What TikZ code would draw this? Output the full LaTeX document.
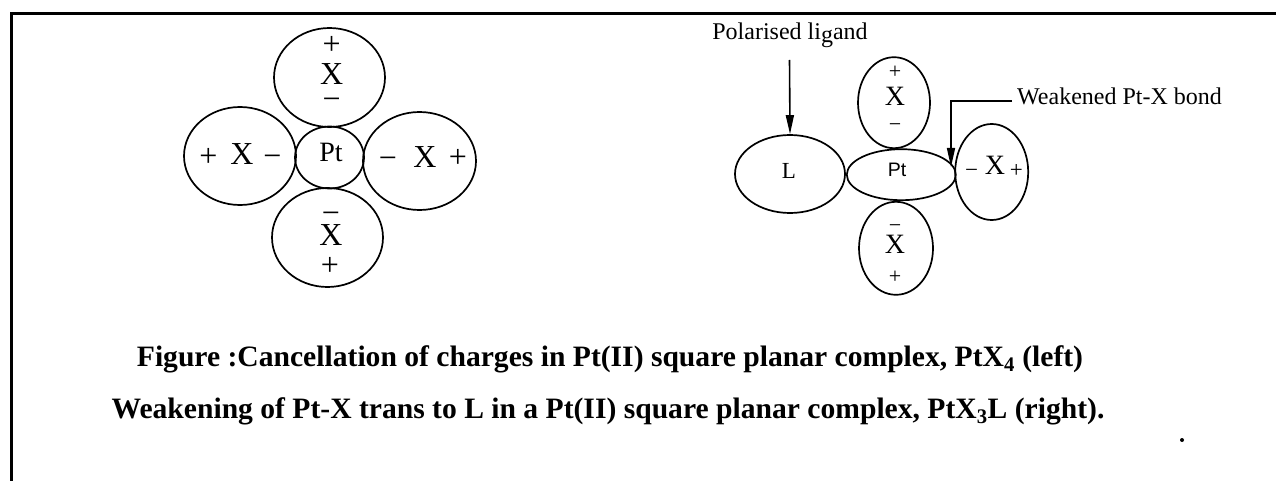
\documentclass[tikz,border=0pt]{standalone}
\usepackage{fontspec}
\setmainfont{Liberation Serif}
\newfontfamily\sansf{Liberation Sans}
\usetikzlibrary{shapes.geometric,arrows.meta}
\begin{document}
\begin{tikzpicture}[x=1pt,y=-1pt,
  orb/.style={draw,ellipse,line width=1.7pt,inner sep=0pt},
  big/.style={inner sep=0pt,anchor=base,font=\fontsize{32}{32}\selectfont},
  mid/.style={inner sep=0pt,anchor=base,font=\fontsize{28}{28}\selectfont},
  sml/.style={inner sep=0pt,anchor=base,font=\fontsize{23}{23}\selectfont},
  note/.style={inner sep=0pt,anchor=base,font=\fontsize{22}{22}\selectfont},
  label/.style={inner sep=0pt,anchor=base,font=\fontsize{24}{24}\selectfont},
  captext/.style={inner sep=0pt,anchor=base,font=\fontsize{29.6}{29.6}\selectfont\bfseries},
  arr/.style={line width=1.6pt,-{Triangle[length=19pt,width=8pt]}}]
\useasboundingbox (0,0) rectangle (1276,481);
\draw[line width=3pt] (1276,14) -- (11,14) -- (11,481);
\fill (1182,440) circle (2);
% left complex
\node[orb,minimum width=111,minimum height=99] (t1) at (329.5,77.5) {};
\node[orb,minimum width=112,minimum height=98] (l1) at (240,156) {};
\node[orb,minimum width=69,minimum height=62] (pt1) at (329.5,157.5) {};
\node[orb,minimum width=113,minimum height=98] (r1) at (419.5,161) {};
\node[orb,minimum width=111,minimum height=99] (b1) at (327.5,237.5) {};
\node[big] (t1p) at (331.7,54.5) {+};
\node[big] (t1x) at (331.7,84.6) {X};
\node[big] (t1m) at (331.7,109.5) {−};
\node[big] (l1p) at (208.3,166.8) {+};
\node[big] (l1x) at (242,165) {X};
\node[big] (l1m) at (272.5,166.8) {−};
\node[mid] (pt1t) at (331,161.7) {Pt};
\node[big] (r1m) at (388,168.8) {−};
\node[big] (r1x) at (425,167.3) {X};
\node[big] (r1p) at (458,167.8) {+};
\node[big] (b1m) at (331,223.8) {−};
\node[big] (b1x) at (331,245.6) {X};
\node[big] (b1p) at (330,275.8) {+};
% right complex
\node[orb,minimum width=110,minimum height=78] (L2) at (790,174) {};
\node[orb,minimum width=109,minimum height=51] (pt2) at (901.3,174.7) {};
\node[orb,minimum width=72,minimum height=91] (t2) at (894,102.7) {};
\node[orb,minimum width=74,minimum height=93] (b2) at (896,248.3) {};
\node[orb,minimum width=73,minimum height=96] (r2) at (991.7,172) {};
\node[sml] (L2t) at (789,178.3) {L};
\node[inner sep=0pt,anchor=base,font=\sansf\fontsize{19.5}{19.5}\selectfont] (pt2t) at (897,176.7) {Pt};
\node[note] (t2p) at (895,78.8) {+};
\node[mid] (t2x) at (895,106) {X};
\node[note] (t2m) at (895,131.5) {−};
\node[note] (b2m) at (895,232.8) {−};
\node[mid] (b2x) at (895,253.3) {X};
\node[note] (b2p) at (895,283.8) {+};
\node[sml] (r2m) at (971.5,177.5) {−};
\node[mid] (r2x) at (995,175) {X};
\node[sml] (r2p) at (1016.3,177.5) {+};
\node[label] (lig) at (790,40) {Polarised li\raisebox{-3pt}{g}and};
\node[label,anchor=base west] (wk) at (1017,105) {Weakened Pt-X bond};
\coordinate (a1) at (789.5,60);
\draw[arr] (a1) -- (L2.north);
\coordinate (b0) at (1012,101);
\coordinate (bc) at (951,101);
\coordinate (be) at (951,167);
\draw[arr] (b0) -- (bc) -- (be);
% caption
\node[captext] (c1) at (610,366) {Figure :Cancellation of charges in Pt(II) square planar complex, PtX\textsubscript{4} (left)};
\node[captext] (c2) at (608,418) {Weakening of Pt-X trans to L in a Pt(II) square planar complex, PtX\textsubscript{3}L (right).};
\end{tikzpicture}
\end{document}
